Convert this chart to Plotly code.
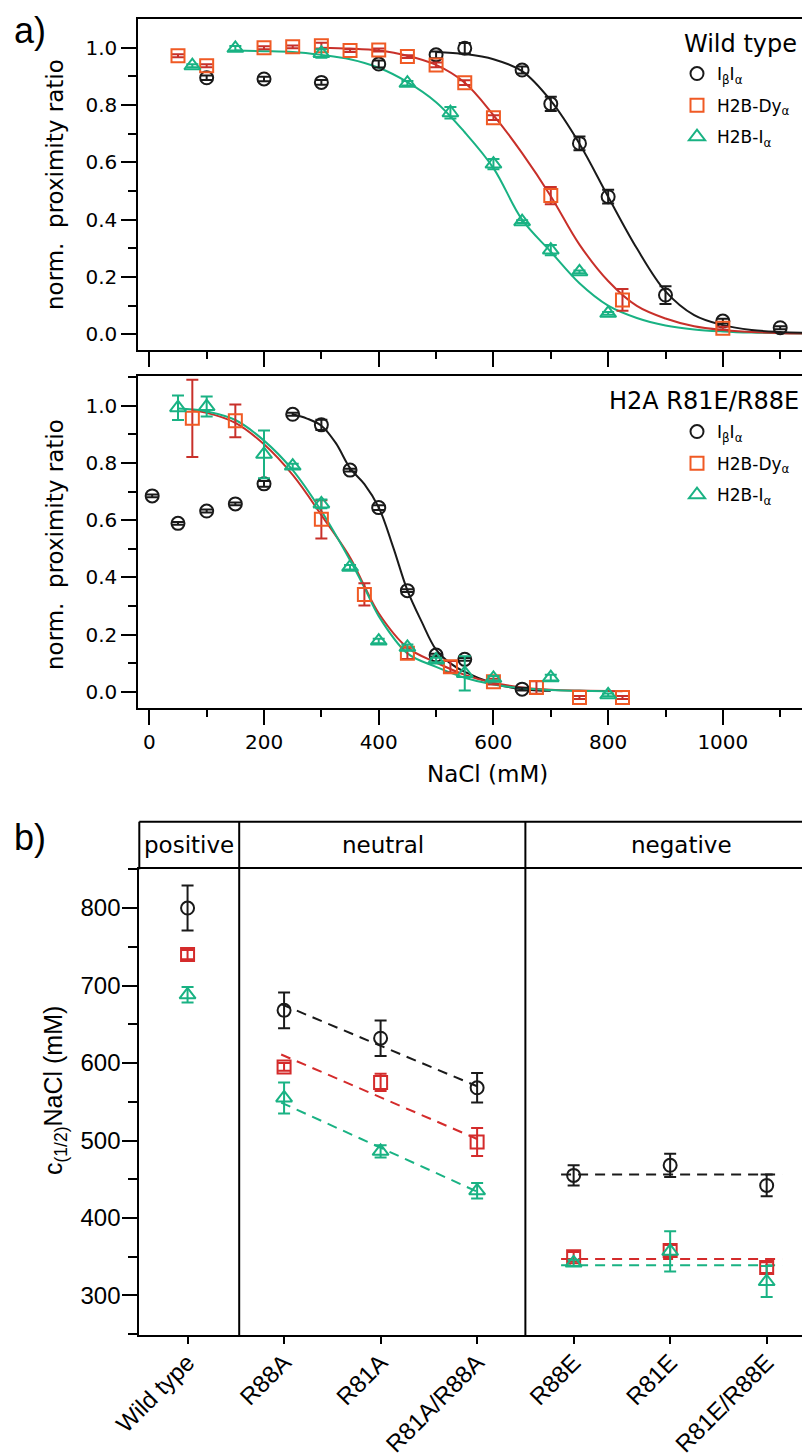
import plotly.graph_objects as go

# ---------------- data: panel a, Wild type ----------------
wt_ib_x = [100, 200, 300, 400, 500, 550, 650, 700, 750, 800, 900, 1000, 1100]
wt_ib_y = [0.895, 0.891, 0.879, 0.943, 0.975, 0.998, 0.922, 0.804, 0.666, 0.480, 0.137, 0.046, 0.023]
wt_ib_err = [0.008, 0.008, 0.008, 0.012, 0.012, 0.018, 0.012, 0.025, 0.024, 0.024, 0.031, 0.008, 0.005]

wt_dy_x = [50, 100, 200, 250, 300, 350, 400, 450, 500, 550, 600, 700, 825, 1000]
wt_dy_y = [0.972, 0.937, 1.0, 1.003, 1.007, 0.99, 0.992, 0.969, 0.94, 0.878, 0.756, 0.484, 0.12, 0.021]
wt_dy_err = [0.005, 0.005, 0.005, 0.005, 0.01, 0.005, 0.005, 0.005, 0.008, 0.008, 0.008, 0.03, 0.038, 0.005]

wt_i_x = [75, 150, 300, 450, 525, 600, 650, 700, 750, 800]
wt_i_y = [0.937, 0.998, 0.98, 0.876, 0.773, 0.594, 0.393, 0.294, 0.218, 0.073]
wt_i_err = [0.005, 0.008, 0.015, 0.008, 0.02, 0.018, 0.005, 0.018, 0.005, 0.005]

# fitted curves
wt_ib_fit_x = [500, 550, 600, 650, 700, 750, 800, 850, 900, 950, 1000, 1050, 1100, 1140]
wt_ib_fit_y = [0.985, 0.978, 0.960, 0.918, 0.815, 0.665, 0.480, 0.300, 0.150, 0.067, 0.032, 0.015, 0.008, 0.005]
wt_dy_fit_x = [300, 350, 400, 450, 500, 550, 600, 650, 700, 750, 800, 850, 900, 950, 1000, 1050, 1100, 1140]
wt_dy_fit_y = [1.0, 0.997, 0.99, 0.972, 0.94, 0.878, 0.765, 0.632, 0.482, 0.313, 0.186, 0.099, 0.055, 0.028, 0.015, 0.008, 0.004, 0.003]
wt_i_fit_x = [150, 200, 250, 300, 350, 400, 450, 500, 550, 600, 650, 700, 750, 800, 850, 900, 950, 1000, 1050, 1140]
wt_i_fit_y = [0.99, 0.988, 0.985, 0.975, 0.96, 0.93, 0.88, 0.81, 0.705, 0.58, 0.40, 0.288, 0.178, 0.10, 0.057, 0.031, 0.017, 0.01, 0.006, 0.003]

# ---------------- data: panel a, H2A R81E/R88E ----------------
mut_ib_x = [5, 50, 100, 150, 200, 250, 300, 350, 400, 450, 500, 550, 650]
mut_ib_y = [0.685, 0.589, 0.632, 0.657, 0.727, 0.970, 0.933, 0.775, 0.644, 0.354, 0.129, 0.114, 0.010]
mut_ib_err = [0.005, 0.005, 0.005, 0.005, 0.01, 0.005, 0.018, 0.005, 0.008, 0.005, 0.005, 0.005, 0.005]

mut_dy_x = [75, 150, 300, 375, 450, 525, 600, 675, 750, 825]
mut_dy_y = [0.956, 0.947, 0.603, 0.341, 0.135, 0.088, 0.036, 0.016, -0.019, -0.019]
mut_dy_err = [0.135, 0.057, 0.067, 0.039, 0.02, 0.02, 0.01, 0.022, 0.005, 0.005]

mut_i_x = [50, 100, 200, 250, 300, 350, 400, 450, 500, 550, 600, 700, 800]
mut_i_y = [0.993, 0.997, 0.83, 0.789, 0.657, 0.436, 0.178, 0.156, 0.112, 0.065, 0.048, 0.05, -0.01]
mut_i_err = [0.043, 0.035, 0.083, 0.008, 0.015, 0.008, 0.008, 0.01, 0.008, 0.06, 0.008, 0.01, 0.005]

mut_ib_fit_x = [250, 275, 300, 325, 350, 375, 400, 425, 450, 475, 500, 525, 550, 600, 650, 700]
mut_ib_fit_y = [0.97, 0.955, 0.93, 0.87, 0.782, 0.726, 0.645, 0.507, 0.355, 0.245, 0.148, 0.10, 0.07, 0.03, 0.01, 0.004]
mut_dy_fit_x = [75, 100, 150, 200, 250, 300, 350, 375, 400, 450, 500, 550, 600, 650, 700, 750, 825]
mut_dy_fit_y = [0.982, 0.975, 0.94, 0.865, 0.758, 0.618, 0.47, 0.37, 0.275, 0.155, 0.103, 0.06, 0.032, 0.016, 0.008, 0.005, 0.003]
mut_i_fit_x = [50, 75, 100, 150, 200, 250, 300, 350, 375, 400, 450, 500, 550, 600, 650, 700, 750, 800]
mut_i_fit_y = [0.99, 0.987, 0.98, 0.95, 0.878, 0.775, 0.632, 0.46, 0.365, 0.265, 0.135, 0.088, 0.05, 0.026, 0.013, 0.007, 0.004, 0.003]

# ---------------- data: panel b ----------------
categories = ["Wild type", "R88A", "R81A", "R81A/R88A", "R88E", "R81E", "R81E/R88E"]
cat_pos = [0, 1, 2, 3, 4, 5, 6]
b_ib = [800, 668, 632, 568, 455, 468, 442]
b_ib_err = [29, 23, 23, 19, 13, 15, 14]
b_dy = [740, 595, 575, 498, 350, 358, 336]
b_dy_err = [6, 5, 11, 18, 6, 7, 7]
b_i = [688, 555, 486, 435, 342, 357, 318]
b_i_err = [10, 20, 8, 10, 4, 26, 20]

neutral_fit_x = [0.97, 3.0]
neutral_fit_ib = [676, 570]
neutral_fit_dy = [611, 502]
neutral_fit_i = [549, 434]
negative_fit_x = [3.87, 6.16]
negative_fit_ib = [456, 456]
negative_fit_dy = [347, 347]
negative_fit_i = [339, 339]

group_labels = ["positive", "neutral", "negative"]

# ---------------- styling ----------------
W, H = 802, 1456
BLACK = "#1a1a1a"
RED_LINE = "#c8302a"
ORANGE = "#f05a24"
GREEN = "#19b283"
RED_B = "#d42b2b"
FONT_A = "DejaVu Sans"
FONT_B = "Liberation Sans"


def px_x(p):
    return p / W


def px_y(p):
    return 1 - p / H


fig = go.Figure()


def add_fit(x, y, color, xa, ya, dash=None, shape="spline"):
    fig.add_trace(go.Scatter(x=x, y=y, mode="lines", xaxis=xa, yaxis=ya,
                             line=dict(color=color, width=2, dash=dash, shape=shape),
                             showlegend=False, hoverinfo="skip"))


def add_pts(x, y, err, symbol, color, ecolor, xa, ya, name=None, legend=None, size=13, group=None):
    fig.add_trace(go.Scatter(
        x=x, y=y, mode="markers", xaxis=xa, yaxis=ya, name=name,
        marker=dict(symbol=symbol, size=size, color=color, line=dict(color=color, width=2)),
        error_y=dict(type="data", array=err, color=ecolor, thickness=2, width=6),
        showlegend=name is not None, legend=legend, legendgroup=group))

# panel a top
add_fit(wt_i_fit_x, wt_i_fit_y, GREEN, "x", "y")
add_fit(wt_dy_fit_x, wt_dy_fit_y, RED_LINE, "x", "y")
add_fit(wt_ib_fit_x, wt_ib_fit_y, BLACK, "x", "y")
add_pts(wt_ib_x, wt_ib_y, wt_ib_err, "circle-open", BLACK, BLACK, "x", "y",
        name="I<sub>β</sub>I<sub>α</sub>", legend="legend", group="a1")
add_pts(wt_dy_x, wt_dy_y, wt_dy_err, "square-open", ORANGE, RED_LINE, "x", "y",
        name="H2B-Dy<sub>α</sub>", legend="legend", group="a2")
add_pts(wt_i_x, wt_i_y, wt_i_err, "triangle-up-open", GREEN, GREEN, "x", "y",
        name="H2B-I<sub>α</sub>", legend="legend", size=14, group="a3")

# panel a bottom
add_fit(mut_ib_fit_x, mut_ib_fit_y, BLACK, "x2", "y2")
add_fit(mut_dy_fit_x, mut_dy_fit_y, RED_LINE, "x2", "y2")
add_fit(mut_i_fit_x, mut_i_fit_y, GREEN, "x2", "y2")
add_pts(mut_ib_x, mut_ib_y, mut_ib_err, "circle-open", BLACK, BLACK, "x2", "y2",
        name="I<sub>β</sub>I<sub>α</sub>", legend="legend2", group="b1")
add_pts(mut_dy_x, mut_dy_y, mut_dy_err, "square-open", ORANGE, RED_LINE, "x2", "y2",
        name="H2B-Dy<sub>α</sub>", legend="legend2", group="b2")
add_pts(mut_i_x, mut_i_y, mut_i_err, "triangle-up-open", GREEN, GREEN, "x2", "y2",
        name="H2B-I<sub>α</sub>", legend="legend2", size=14, group="b3")

# panel b
DASH = "10px,7px"
add_fit(neutral_fit_x, neutral_fit_ib, BLACK, "x3", "y3", dash=DASH, shape="linear")
add_fit(neutral_fit_x, neutral_fit_dy, RED_B, "x3", "y3", dash=DASH, shape="linear")
add_fit(neutral_fit_x, neutral_fit_i, GREEN, "x3", "y3", dash=DASH, shape="linear")
add_fit(negative_fit_x, negative_fit_ib, BLACK, "x3", "y3", dash=DASH, shape="linear")
add_fit(negative_fit_x, negative_fit_dy, RED_B, "x3", "y3", dash=DASH, shape="linear")
add_fit(negative_fit_x, negative_fit_i, GREEN, "x3", "y3", dash=DASH, shape="linear")
add_pts(cat_pos, b_ib, b_ib_err, "circle-open", BLACK, BLACK, "x3", "y3")
add_pts(cat_pos, b_dy, b_dy_err, "square-open", RED_B, RED_B, "x3", "y3")
add_pts(cat_pos, b_i, b_i_err, "triangle-up-open", GREEN, GREEN, "x3", "y3", size=14)

# ---------------- axes ----------------
common_line = dict(showline=True, linewidth=2, linecolor="black", showgrid=False,
                   zeroline=False, ticks="outside", tickwidth=2, tickcolor="black",
                   automargin=False)
a_xrange = [-19.2, 1138]
minor_x = dict(dtick=100, tick0=0, ticks="outside", ticklen=7, tickwidth=2, tickcolor="black", showgrid=False)
minor_ya = dict(dtick=0.1, tick0=0, ticks="outside", ticklen=8, tickwidth=2, tickcolor="black", showgrid=False)

fig.update_layout(
    xaxis=dict(domain=[px_x(138.3), 1], range=a_xrange, anchor="y", mirror=True,
               dtick=200, tick0=0, ticklen=15, showticklabels=False, minor=minor_x, **common_line),
    yaxis=dict(domain=[px_y(350), px_y(19.3)], range=[-0.0548, 1.0991], anchor="x",
               dtick=0.2, tick0=0, ticklen=15, tickformat=".1f", minor=minor_ya,
               tickfont=dict(family=FONT_A, size=20, color="black"), **common_line),
    xaxis2=dict(domain=[px_x(138.3), 1], range=a_xrange, anchor="y2", mirror=True,
                dtick=200, tick0=0, ticklen=15, minor=minor_x,
                tickfont=dict(family=FONT_A, size=20, color="black"), **common_line),
    yaxis2=dict(domain=[px_y(707.7), px_y(376)], range=[-0.0548, 1.1037], anchor="x2",
                dtick=0.2, tick0=0, ticklen=15, tickformat=".1f", minor=minor_ya,
                tickfont=dict(family=FONT_A, size=20, color="black"), **common_line),
    xaxis3=dict(domain=[px_x(139.3), 1], range=[-0.50, 6.366], anchor="y3", mirror=True,
                tickmode="array", tickvals=cat_pos, ticktext=categories, tickangle=-45,
                ticklen=7, ticklabelstandoff=-5,
                tickfont=dict(family=FONT_B, size=24, color="black"), **common_line),
    yaxis3=dict(domain=[px_y(1335), px_y(869.3)], range=[249, 850], anchor="x3",
                dtick=100, tick0=0, ticklen=15, ticklabelstandoff=-3,
                minor=dict(dtick=50, tick0=0, ticks="outside", ticklen=9, tickwidth=2,
                           tickcolor="black", showgrid=False),
                tickfont=dict(family=FONT_B, size=24, color="black"), **common_line),
)

# ---------------- legends ----------------
leg_common = dict(xanchor="left", yanchor="top", bgcolor="rgba(0,0,0,0)",
                  font=dict(family=FONT_A, size=17, color="black"),
                  traceorder="grouped", tracegroupgap=6.5, itemwidth=30)
fig.update_layout(
    legend=dict(x=px_x(677), y=px_y(56), **leg_common),
    legend2=dict(x=px_x(677), y=px_y(414), **leg_common),
)

# ---------------- shapes (panel b frame) ----------------
shapes = [
    dict(type="line", xref="paper", yref="paper", x0=px_x(139.3), x1=1,
         y0=px_y(821.7), y1=px_y(821.7), line=dict(color="black", width=2)),
    dict(type="line", xref="paper", yref="paper", x0=px_x(139.3), x1=px_x(139.3),
         y0=px_y(869.3), y1=px_y(821.7), line=dict(color="black", width=2)),
]
for sep in [0.535, 3.5]:
    shapes.append(dict(type="line", xref="x3", yref="paper", x0=sep, x1=sep,
                       y0=px_y(1335), y1=px_y(821.7), line=dict(color="black", width=2)))
fig.update_layout(shapes=shapes)

# ---------------- annotations ----------------
ann = []


def text(t, x, y, size, family=FONT_A, xanchor="center", yanchor="middle", angle=0):
    ann.append(dict(text=t, x=px_x(x), y=px_y(y), xref="paper", yref="paper", showarrow=False,
                    xanchor=xanchor, yanchor=yanchor, textangle=angle,
                    font=dict(family=family, size=size, color="black")))

text("a)", 12, 30, 36, family=FONT_B, xanchor="left")
text("b)", 12, 838, 36, family=FONT_B, xanchor="left")
text("norm.  proximity ratio", 55, 185, 23, angle=-90)
text("norm.  proximity ratio", 55, 545, 23, angle=-90)
text("NaCl (mM)", 487, 774, 23)
text("Wild type", 799, 44, 24, xanchor="right")
text("H2A R81E/R88E", 801, 401, 24, xanchor="right")
text(group_labels[0], 189.3, 845, 23)
text(group_labels[1], 382.6, 845, 23)
text(group_labels[2], 681, 845, 23)
text("c<sub>(1/2)</sub>NaCl (mM)", 55, 1091, 25, family=FONT_B, angle=-90)
fig.update_layout(annotations=ann)

fig.update_layout(width=W, height=H,
                  margin=dict(l=0, r=0, t=0, b=0, pad=0, autoexpand=False),
                  paper_bgcolor="white", plot_bgcolor="white")

fig.write_html("out.html", config={"displayModeBar": False},
               post_script="document.body.style.margin='0px';document.body.style.padding='0px';")
